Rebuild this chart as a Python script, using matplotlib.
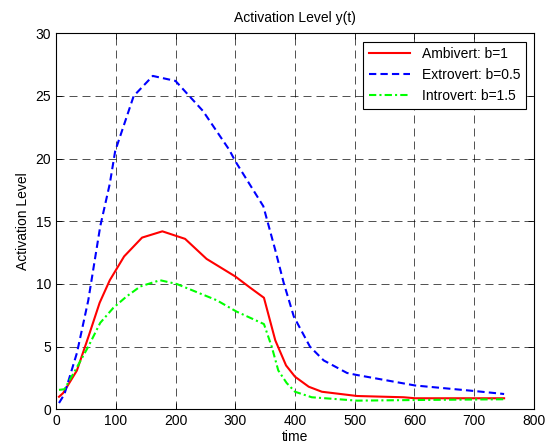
import matplotlib
matplotlib.use("Agg")
import matplotlib.pyplot as plt

# time samples and activation levels
t_amb = [5, 12, 35, 55, 73, 90, 114, 144, 178, 216, 252, 300, 325, 348, 367, 385, 400, 423, 445, 504, 582, 601, 650, 700, 750]
y_amb = [1.0, 1.3, 3.1, 5.9, 8.5, 10.3, 12.2, 13.7, 14.2, 13.6, 12.0, 10.6, 9.7, 8.9, 5.5, 3.5, 2.6, 1.8, 1.4, 1.06, 0.96, 0.88, 0.88, 0.88, 0.88]

t_ext = [5, 14, 35, 54, 74, 90, 99, 130, 162, 200, 246, 290, 300, 347, 367, 381, 398, 425, 448, 487, 502, 601, 702, 750]
y_ext = [0.5, 1.2, 4.5, 8.7, 14.6, 18.0, 20.6, 25.0, 26.6, 26.2, 23.8, 20.7, 19.8, 16.2, 12.7, 10.1, 7.4, 5.0, 3.9, 2.9, 2.75, 1.9, 1.45, 1.22]

t_int = [5, 14, 32, 54, 74, 96, 118, 141, 174, 202, 269, 302, 348, 361, 372, 386, 400, 428, 504, 601, 750]
y_int = [1.55, 1.6, 3.1, 5.0, 6.9, 8.1, 9.0, 9.8, 10.3, 10.0, 8.7, 7.8, 6.8, 5.0, 3.1, 2.1, 1.4, 0.96, 0.69, 0.74, 0.8]

x_ticks = [0, 100, 200, 300, 400, 500, 600, 700, 800]
y_ticks = [0, 5, 10, 15, 20, 25, 30]

plt.rcParams["font.family"] = ["Liberation Sans", "DejaVu Sans"]
plt.rcParams["font.size"] = 10

fig = plt.figure(figsize=(5.45, 4.46), dpi=100)
ax = fig.add_axes([0.1028, 0.0823, 0.877, 0.843])

ax.plot(t_amb, y_amb, color="#ff0000", lw=1.5, ls="-", label="Ambivert: b=1")
ax.plot(t_ext, y_ext, color="#0000ff", lw=1.5, ls=(0, (3.5, 2)), label="Extrovert: b=0.5")
ax.plot(t_int, y_int, color="#00ff00", lw=1.5, ls=(0, (3.5, 1.5, 1, 1.5)), label="Introvert: b=1.5")

ax.set_xlim(0, 800)
ax.set_ylim(0, 30)
ax.set_xticks(x_ticks)
ax.set_yticks(y_ticks)
ax.grid(True, color="k", lw=0.6, ls=(0, (9.6, 6)), alpha=0.8)
ax.tick_params(direction="in", top=True, right=True, length=4, width=0.6, labelsize=10)
for sp in ax.spines.values():
    sp.set_linewidth(0.8)

ax.set_title("Activation Level y(t)", fontsize=10, pad=8)
ax.set_xlabel("time", fontsize=10, labelpad=1)
ax.set_ylabel("Activation Level", fontsize=10, labelpad=4)

leg = ax.legend(loc="upper right", fancybox=False, framealpha=1, edgecolor="k",
                fontsize=10, handlelength=3, borderaxespad=0.6, labelspacing=0.5)
leg.get_frame().set_linewidth(0.8)

fig.savefig("out.png", dpi=100)
